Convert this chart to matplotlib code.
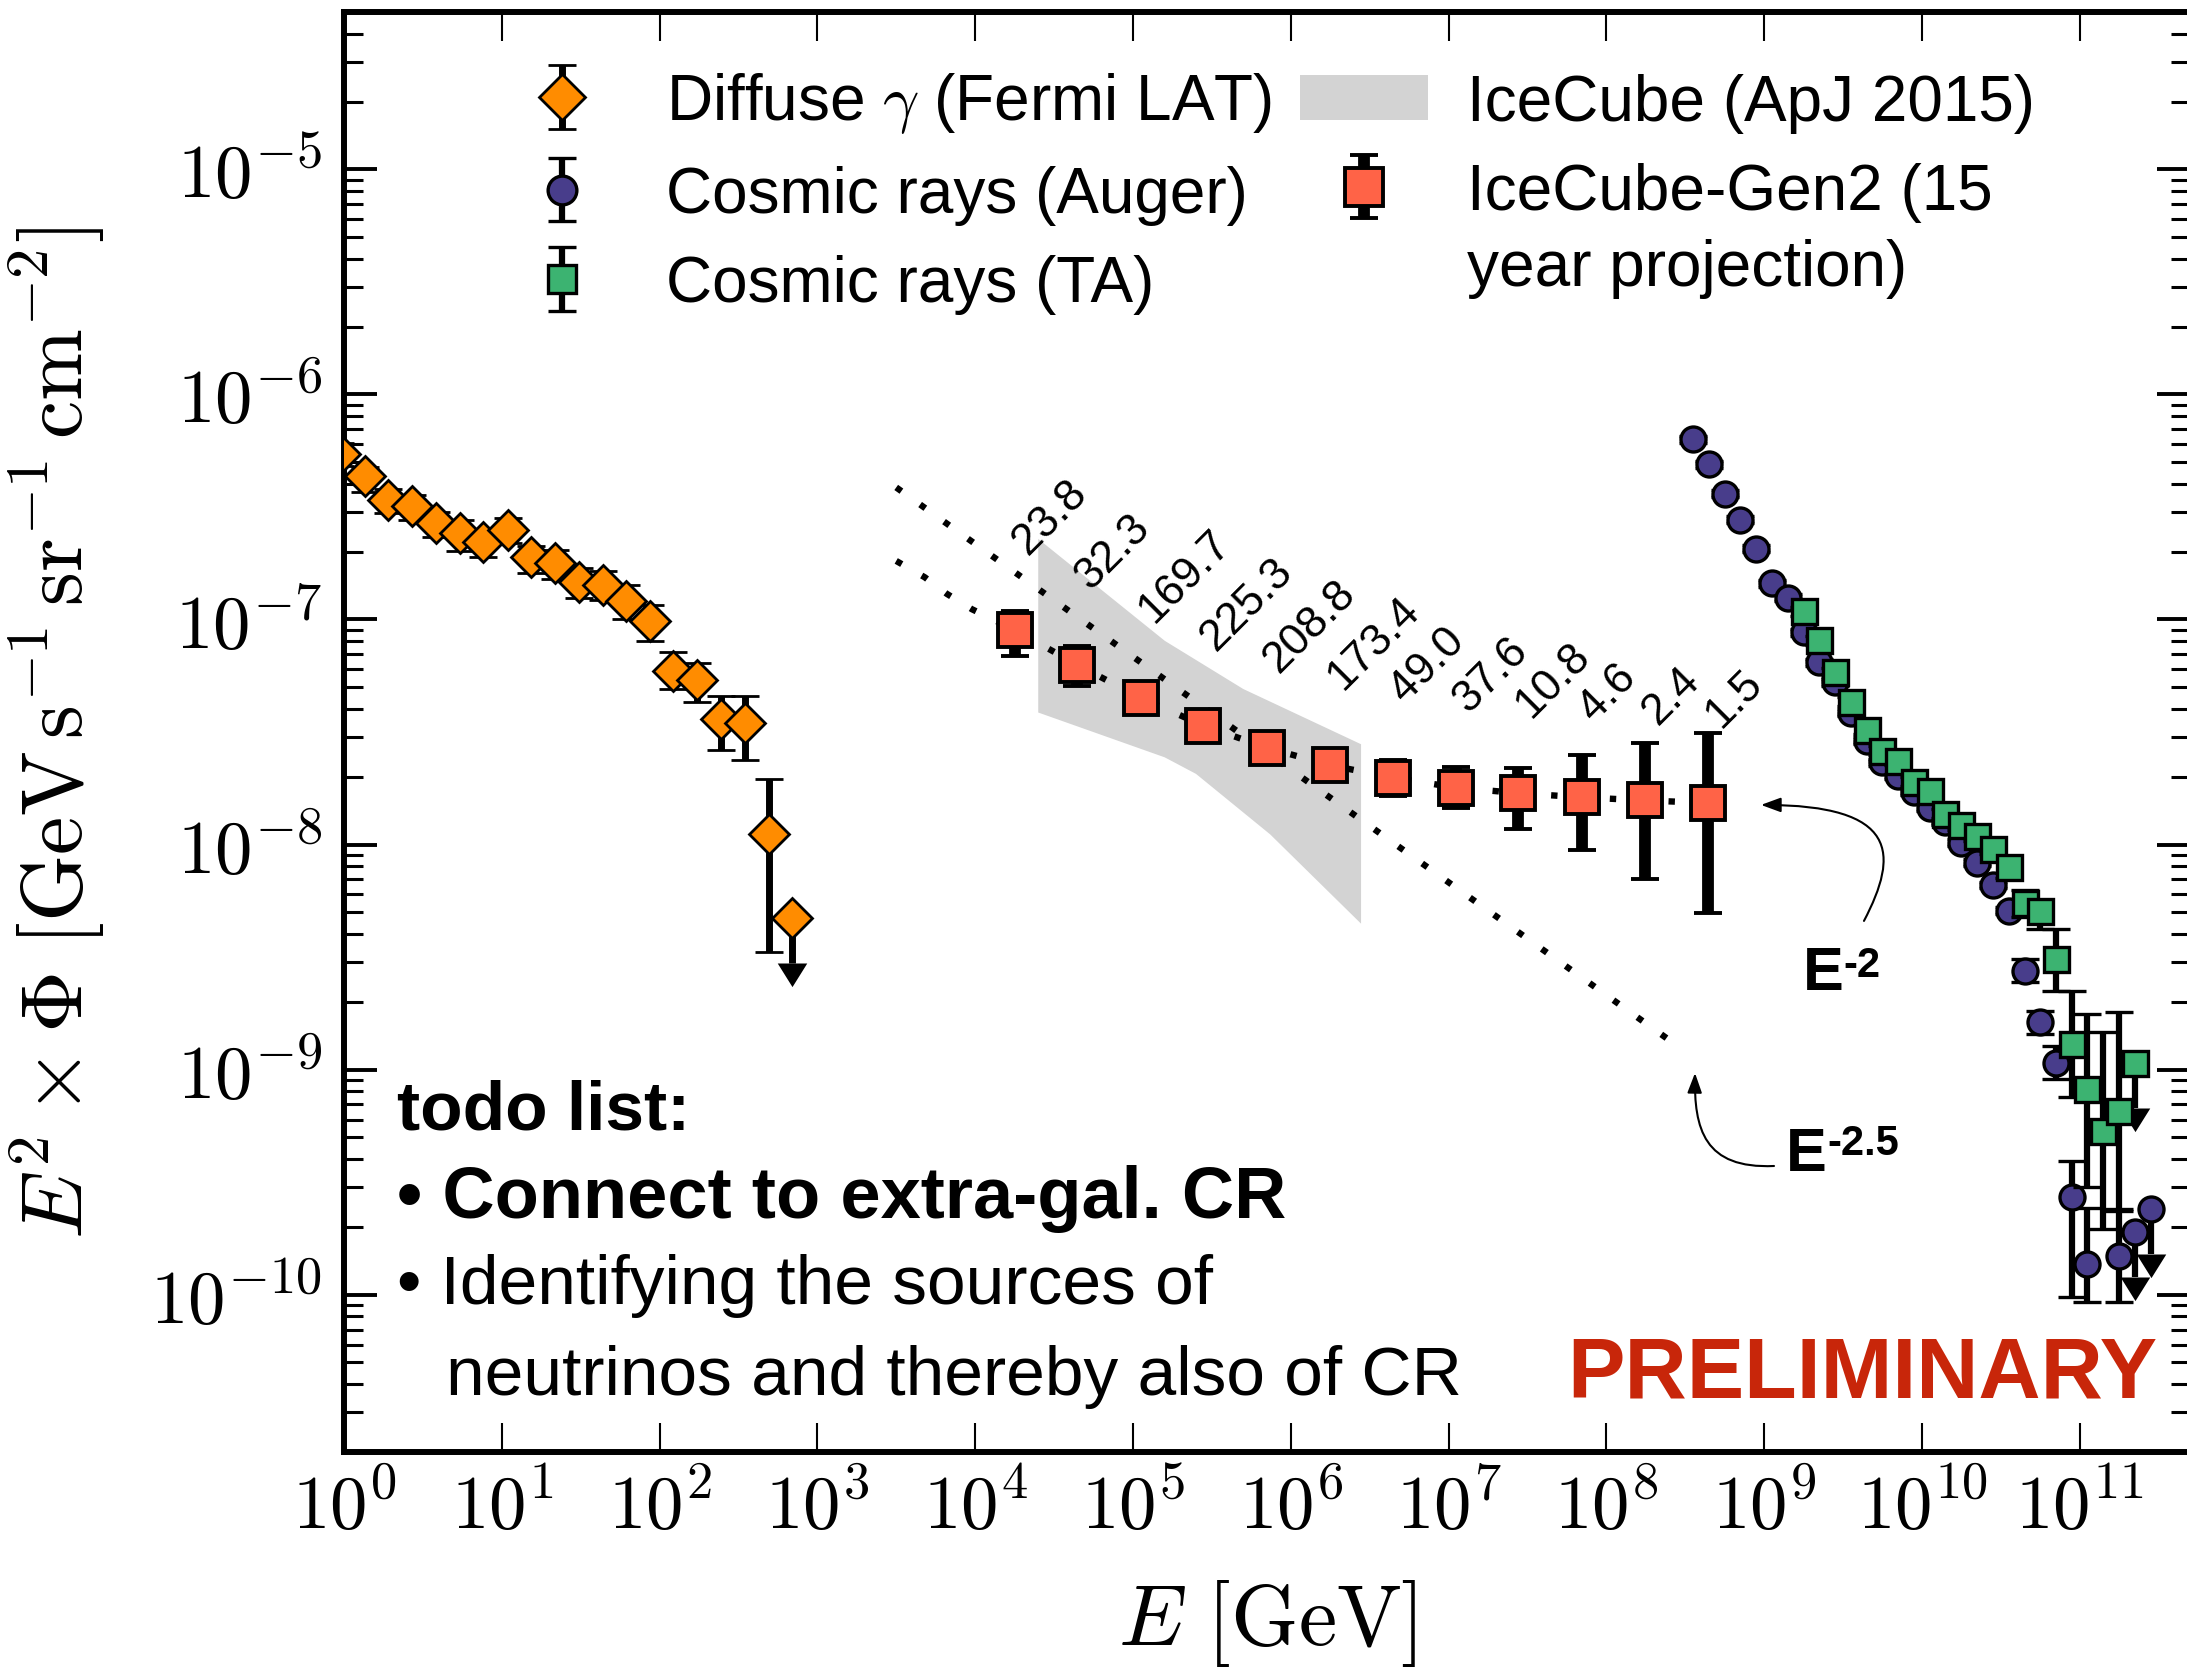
import numpy as np
import matplotlib
matplotlib.use("Agg")
import matplotlib.pyplot as plt
import matplotlib.transforms as mtransforms
from matplotlib.patches import Patch, FancyArrowPatch
from matplotlib.path import Path
from matplotlib.ticker import FixedLocator, FuncFormatter, LogLocator, NullLocator, NullFormatter

plt.rcParams['font.family'] = ['Liberation Sans', 'DejaVu Sans']
plt.rcParams['mathtext.fontset'] = 'cm'

# ---------------- data ----------------
# Fermi-LAT diffuse gamma-ray background (last point is an upper limit)
fermi_E = [0.944, 1.36, 1.91, 2.69, 3.83, 5.43, 7.62, 10.9, 15.3, 21.7,
           30.8, 43.5, 61.1, 86.7, 122, 173, 244, 347, 492, 693]
fermi_F = [5.42e-7, 4.34e-7, 3.40e-7, 3.18e-7, 2.67e-7, 2.42e-7, 2.22e-7, 2.51e-7,
           1.89e-7, 1.78e-7, 1.47e-7, 1.43e-7, 1.21e-7, 9.82e-8, 5.93e-8, 5.36e-8,
           3.63e-8, 3.48e-8, 1.11e-8, 4.72e-9]
fermi_up_dex = [0.05, 0.04, 0.05, 0.05, 0.05, 0.06, 0.05, 0.05, 0.05, 0.06,
                0.06, 0.06, 0.07, 0.07, 0.083, 0.079, 0.10, 0.12, 0.246, 0.0]
fermi_dn_dex = [0.05, 0.07, 0.06, 0.06, 0.06, 0.08, 0.07, 0.06, 0.07, 0.07,
                0.07, 0.07, 0.08, 0.09, 0.084, 0.097, 0.14, 0.166, 0.524, 0.0]
fermi_ul = [False] * 19 + [True]

# Pierre Auger Observatory cosmic-ray spectrum
auger_E = [3.55e8, 4.47e8, 5.62e8, 7.08e8, 8.91e8, 1.12e9, 1.41e9, 1.78e9, 2.24e9, 2.82e9,
           3.55e9, 4.47e9, 5.62e9, 7.08e9, 8.91e9, 1.12e10, 1.41e10, 1.78e10, 2.24e10, 2.82e10,
           3.55e10, 4.47e10, 5.62e10, 7.08e10, 8.91e10, 1.12e11, 1.78e11, 2.24e11, 2.82e11]
auger_F = [6.32e-7, 4.89e-7, 3.62e-7, 2.77e-7, 2.06e-7, 1.45e-7, 1.25e-7, 8.77e-8, 6.46e-8, 5.25e-8,
           3.86e-8, 2.89e-8, 2.32e-8, 2.02e-8, 1.71e-8, 1.46e-8, 1.26e-8, 1.02e-8, 8.32e-9, 6.61e-9,
           5.08e-9, 2.75e-9, 1.62e-9, 1.07e-9, 2.72e-10, 1.37e-10, 1.49e-10, 1.89e-10, 2.40e-10]
auger_up_dex = [0.015] * 21 + [0.05, 0.052, 0.077, 0.16, 0.25, 0.20, 0.0, 0.0]
auger_dn_dex = [0.015] * 21 + [0.05, 0.052, 0.071, 0.446, 0.17, 0.207, 0.0, 0.0]
auger_ul = [False] * 27 + [True, True]

# Telescope Array cosmic-ray spectrum
ta_E = [1.78e9, 2.24e9, 2.82e9, 3.55e9, 4.47e9, 5.62e9, 7.08e9, 8.91e9, 1.12e10, 1.41e10, 1.78e10,
        2.24e10, 2.82e10, 3.55e10, 4.47e10, 5.62e10, 7.08e10, 8.91e10, 1.12e11, 1.41e11, 1.78e11, 2.24e11]
ta_F = [1.09e-7, 8.09e-8, 5.82e-8, 4.31e-8, 3.23e-8, 2.61e-8, 2.36e-8, 1.90e-8, 1.73e-8, 1.37e-8, 1.22e-8,
        1.09e-8, 9.55e-9, 7.94e-9, 5.48e-9, 5.08e-9, 3.10e-9, 1.30e-9, 8.20e-10, 5.36e-10, 6.56e-10, 1.07e-9]
ta_up_dex = [0.02] * 13 + [0.05, 0.06, 0.03, 0.134, 0.237, 0.333, 0.437, 0.44, 0.0]
ta_dn_dex = [0.02] * 13 + [0.05, 0.06, 0.08, 0.14, 0.237, 0.437, 0.437, 0.436, 0.0]
ta_ul = [False] * 21 + [True]

# IceCube (ApJ 2015) best-fit band: upper and lower boundaries
band_E_upper = [2.51e4, 1.59e5, 5.00e5, 2.79e6]
band_F_upper = [2.28e-7, 8.04e-8, 4.91e-8, 2.79e-8]
band_E_lower = [2.51e4, 1.59e5, 2.51e5, 7.40e5, 2.79e6]
band_F_lower = [3.86e-8, 2.44e-8, 2.06e-8, 1.11e-8, 4.45e-9]

# IceCube-Gen2 15-year projection with expected event counts per bin
gen2_E = [1.79e4, 4.45e4, 1.12e5, 2.79e5, 7.02e5, 1.77e6, 4.42e6, 1.11e7, 2.77e7, 7.00e7, 1.76e8, 4.42e8]
gen2_F = [8.99e-8, 6.27e-8, 4.48e-8, 3.37e-8, 2.69e-8, 2.25e-8, 1.98e-8, 1.79e-8, 1.69e-8, 1.62e-8, 1.57e-8, 1.53e-8]
gen2_up_dex = [0.084, 0.084, 0.06, 0.06, 0.05, 0.05, 0.08, 0.09, 0.112, 0.188, 0.255, 0.311]
gen2_dn_dex = [0.115, 0.092, 0.06, 0.06, 0.05, 0.05, 0.08, 0.09, 0.159, 0.233, 0.348, 0.49]
gen2_events = ['23.8', '32.3', '169.7', '225.3', '208.8', '173.4', '49.0', '37.6', '10.8', '4.6', '2.4', '1.5']

# Injected spectra: pure E^-2.5 and the E^-2.5 + E^-2 mix followed by the projection
soft_E = [3.16e3, 2.63e8]
soft_F = [3.86e-7, 1.32e-9]
mix_E = [3.16e3, 4.79e3, 6.61e3, 9.55e3, 1.78e4, 4.47e4, 1.12e5, 2.82e5, 7.08e5, 1.78e6,
         4.47e6, 1.12e7, 2.82e7, 7.08e7, 1.78e8, 4.47e8]
mix_F = [1.82e-7, 1.54e-7, 1.30e-7, 1.11e-7, 8.99e-8, 6.27e-8, 4.48e-8, 3.37e-8, 2.69e-8, 2.25e-8,
         1.98e-8, 1.79e-8, 1.69e-8, 1.62e-8, 1.57e-8, 1.53e-8]

x_ticks = [10.0 ** k for k in range(0, 12)]

# ---------------- figure ----------------
W, H, DPI = 2187, 1674, 100
fig = plt.figure(figsize=(W / DPI, H / DPI), dpi=DPI)
ax_l, ax_r, ax_t, ax_b = 344, 2190, 13, 1453
ax = fig.add_axes([ax_l / W, 1 - ax_b / H, (ax_r - ax_l) / W, (ax_b - ax_t) / H])
ax.set_xscale('log')
ax.set_yscale('log')
ax.set_xlim(1, 5e11)
ax.set_ylim(2e-11, 5e-5)

C_FERMI, C_AUGER, C_TA, C_GEN2, C_BAND = '#FF8C00', '#483D8B', '#3CB371', '#FF6347', '#D3D3D3'
ARROW_DEX = 0.2
arrow_marker = Path([(-0.6, 0.0), (0.6, 0.0), (0.0, -0.96), (-0.6, 0.0)], closed=True)


def yerr(F, up, dn):
    F = np.asarray(F, float)
    return np.vstack([F * (1 - 10.0 ** -np.asarray(dn)), F * (10.0 ** np.asarray(up) - 1)])


def data_with_limits(E, F, up, dn, ul, marker, ms, color, mew, elw, capthick, z):
    E, F, ul = np.asarray(E), np.asarray(F), np.asarray(ul)
    up, dn = np.asarray(up), np.asarray(dn)
    ok = ~ul
    cont = ax.errorbar(E[ok], F[ok], yerr=yerr(F[ok], up[ok], dn[ok]), fmt=marker, ms=ms,
                       mfc=color, mec='k', mew=mew, ecolor='k', elinewidth=elw,
                       capsize=10, capthick=capthick, zorder=z)
    if ul.any():
        Eu, Fu = E[ul], F[ul]
        lo = Fu * (1 - 10.0 ** -ARROW_DEX)
        ax.errorbar(Eu, Fu, yerr=[lo, np.zeros_like(Fu)], fmt=marker, ms=ms, mfc=color, mec='k',
                    mew=mew, ecolor='k', elinewidth=elw, capsize=0, zorder=z)
        ax.plot(Eu, Fu * 10.0 ** -ARROW_DEX, ls='none', marker=arrow_marker, ms=34,
                color='k', mew=0, zorder=z)
    return cont


# IceCube band and injected spectra
band_x = np.concatenate([band_E_upper, band_E_lower[::-1]])
band_y = np.concatenate([band_F_upper, band_F_lower[::-1]])
ax.fill(band_x, band_y, color=C_BAND, lw=0, zorder=1)
dots = (0, (1.0, 3.6))
ax.plot(soft_E, soft_F, color='k', lw=4.6, ls=dots, zorder=2)
ax.plot(mix_E, mix_F, color='k', lw=4.6, ls=dots, zorder=2)

fermi = data_with_limits(fermi_E, fermi_F, fermi_up_dex, fermi_dn_dex, fermi_ul,
                         'D', 20, C_FERMI, 2.0, 5.0, 3.0, 4)
auger = data_with_limits(auger_E, auger_F, auger_up_dex, auger_dn_dex, auger_ul,
                         'o', 18, C_AUGER, 2.4, 4.5, 2.5, 4)
ta = data_with_limits(ta_E, ta_F, ta_up_dex, ta_dn_dex, ta_ul,
                      's', 18, C_TA, 2.4, 4.5, 2.5, 5)
gen2 = ax.errorbar(gen2_E, gen2_F, yerr=yerr(gen2_F, gen2_up_dex, gen2_dn_dex), fmt='s', ms=24,
                   mfc=C_GEN2, mec='k', mew=2.8, ecolor='k', elinewidth=8.5, capsize=10,
                   capthick=7.5, zorder=6)

for E, F, lab in zip(gen2_E, gen2_F, gen2_events):
    ax.annotate(lab, (E, F), xytext=(9, 54), textcoords='offset points', rotation=45,
                rotation_mode='anchor', ha='left', va='baseline', fontsize=32, zorder=7)

# ---------------- axes styling ----------------
for sp in ax.spines.values():
    sp.set_linewidth(4.3)
ax.xaxis.set_major_locator(FixedLocator(x_ticks))
ax.xaxis.set_minor_locator(NullLocator())
ax.xaxis.set_major_formatter(FuncFormatter(lambda v, p: r'$\mathrm{10^{%d}}$' % round(np.log10(v))))
ax.yaxis.set_major_locator(FixedLocator([10.0 ** k for k in range(-10, -4)]))
ax.yaxis.set_minor_locator(LogLocator(base=10, subs=np.arange(2, 10), numticks=20))
ax.yaxis.set_minor_formatter(NullFormatter())
ax.yaxis.set_major_formatter(FuncFormatter(lambda v, p: r'$\mathrm{10^{%d}}$' % round(np.log10(v))))
ax.tick_params(axis='x', which='major', direction='in', length=21, width=1.5, top=True,
               labelsize=54, pad=14)
ax.tick_params(axis='y', which='major', direction='in', length=24, width=2.8, right=True,
               labelsize=54, pad=16)
ax.tick_params(axis='y', which='minor', direction='in', length=13.5, width=2.2, right=True)

ax.set_xlabel(r'$E\ [\mathrm{GeV}]$', fontsize=62)
ax.set_ylabel(r'$E^2 \times \Phi\ [\mathrm{GeV\,s^{-1}\,sr^{-1}\,cm^{-2}}]$', fontsize=62)
ax.xaxis.set_label_coords(0.5, (ax_b - 1578) / (ax_b - ax_t))
ax.yaxis.set_label_coords((107 - ax_l) / (ax_r - ax_l), 0.5)

# ---------------- legend ----------------
handles = [fermi, auger, ta, Patch(facecolor=C_BAND, edgecolor='none'), gen2]
labels = [r'Diffuse $\gamma$ (Fermi LAT)', 'Cosmic rays (Auger)', 'Cosmic rays (TA)',
          'IceCube (ApJ 2015)', 'IceCube-Gen2 (15']
leg = ax.legend(handles, labels, ncol=2, loc='upper left', bbox_to_anchor=(441 / W, 1 - 14 / H),
                bbox_transform=fig.transFigure, frameon=False, fontsize=46, handlelength=2.0,
                handletextpad=0.62, columnspacing=0.44, labelspacing=0.46, borderpad=0.4,
                numpoints=1, markerscale=1.15)


def fx(x):
    return x / W


def fy(y):
    return 1 - y / H


# ---------------- annotations ----------------
fig.text(fx(397), fy(1130), 'todo list:', fontsize=50, fontweight='bold', va='baseline')
fig.text(fx(397), fy(1218), '\u2022 Connect to extra-gal. CR', fontsize=52, fontweight='bold', va='baseline')
fig.text(fx(397), fy(1304), '\u2022 Identifying the sources of', fontsize=50, va='baseline')
fig.text(fx(446), fy(1395), 'neutrinos and thereby also of CR', fontsize=50, va='baseline')
fig.text(fx(2157), fy(1398), 'PRELIMINARY', fontsize=62, fontweight='bold', color='#C8260A',
         ha='right', va='baseline')

fig.text(fx(1803), fy(990), 'E', fontsize=44, fontweight='bold', va='baseline')
fig.text(fx(1843), fy(977), '-2', fontsize=30, fontweight='bold', va='baseline')
fig.text(fx(1786), fy(1171), 'E', fontsize=44, fontweight='bold', va='baseline')
fig.text(fx(1827), fy(1155), '-2.5', fontsize=30, fontweight='bold', va='baseline')


def hook_arrow(tip_E, tip_F, offsets):
    tx, ty = ax.transData.transform((tip_E, tip_F))
    verts = [(tx + dx, ty + dy) for dx, dy in offsets] + [(tx, ty)]
    path = Path(verts, [Path.MOVETO, Path.CURVE4, Path.CURVE4, Path.CURVE4])
    arr = FancyArrowPatch(path=path, arrowstyle='-|>,head_length=0.6,head_width=0.22',
                          mutation_scale=20, lw=1.5, color='k',
                          transform=mtransforms.IdentityTransform())
    fig.add_artist(arr)


hook_arrow(10 ** 8.98, 10 ** -7.824, [(103, -116), (138, -49), (138, 0)])
hook_arrow(10 ** 8.562, 10 ** -9.015, [(79, -93), (9, -96), (-1, -56)])

# second line of the Gen2 legend entry, set under the first one
fig.canvas.draw()
t = leg.get_texts()[4]
bx, by = t.get_transform().transform(t.get_position())
fig.text(bx, by - 76, 'year projection)', fontsize=46, va='baseline', ha='left',
         transform=mtransforms.IdentityTransform())

fig.savefig('out.png', dpi=DPI)
